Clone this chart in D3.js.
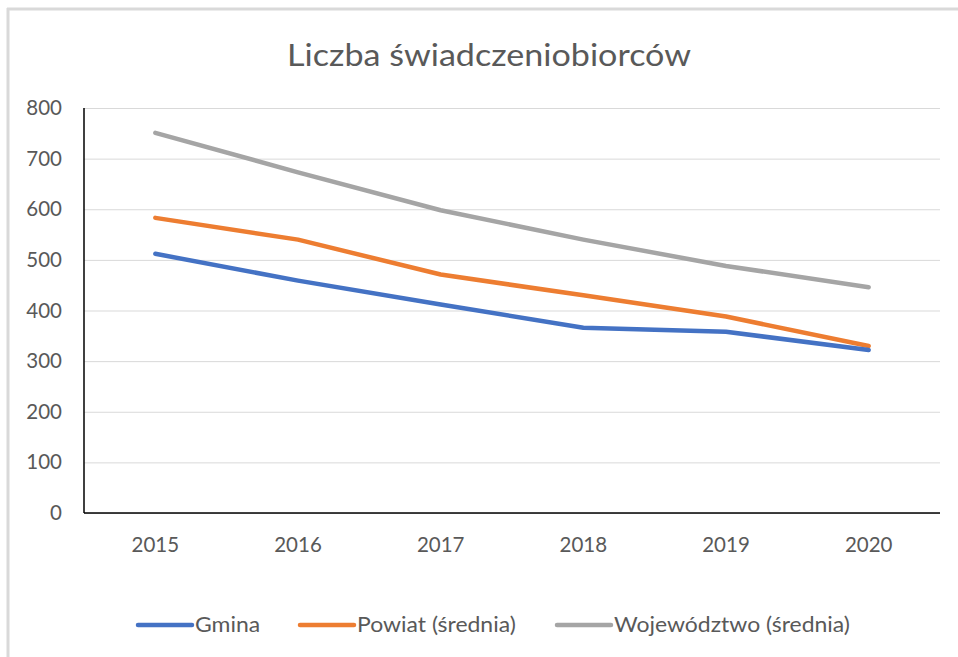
<!DOCTYPE html>
<html><head><meta charset="utf-8">
<script src="https://cdn.jsdelivr.net/npm/d3@7"></script>
<style>body{margin:0;background:#fff;} svg{display:block;}</style>
</head><body>
<svg id="chart" width="958" height="657"></svg>
<script>
const title = "Liczba świadczeniobiorców";
const years = ["2015","2016","2017","2018","2019","2020"];
const gmina = [512, 459, 412, 366, 358, 322];
const powiat = [583, 540, 471, 430, 388, 330];
const wojewodztwo = [751, 673, 598, 540, 488, 446];
const seriesNames = ["Gmina", "Powiat (średnia)", "Województwo (średnia)"];
const seriesColors = ["#4472C4", "#ED7D31", "#A5A5A5"];
const yTicks = [0,100,200,300,400,500,600,700,800];

const svg = d3.select("#chart");
const font = "Lato, 'Open Sans', sans-serif";
const textColor = "#595959";

// outer frame
svg.append("line").attr("x1",8).attr("x2",8).attr("y1",8).attr("y2",657).attr("stroke","#d9d9d9").attr("stroke-width",3);
svg.append("line").attr("x1",7).attr("x2",958).attr("y1",9).attr("y2",9).attr("stroke","#d9d9d9").attr("stroke-width",3);

const m = {left:84, right:940, top:108, bottom:513};
const x = d3.scaleBand().domain(years).range([m.left, m.right]);
const y = d3.scaleLinear().domain([0,800]).range([m.bottom, m.top]);

// gridlines
const grid = svg.append("g").attr("transform",`translate(${m.left},0)`)
  .call(d3.axisLeft(y).tickValues(yTicks).tickSize(-(m.right-m.left)).tickFormat(""));
grid.select(".domain").remove();
grid.selectAll("line").attr("stroke","#d9d9d9").attr("stroke-width",1);

// y labels
const yAx = svg.append("g").attr("transform",`translate(${m.left},0)`)
  .call(d3.axisLeft(y).tickValues(yTicks).tickSize(0).tickPadding(22));
yAx.select(".domain").remove();
yAx.selectAll("text").attr("font-family",font).attr("font-size",20.5).attr("fill",textColor);

// x labels
const xAx = svg.append("g").attr("transform",`translate(0,${m.bottom})`)
  .call(d3.axisBottom(x).tickSize(0).tickPadding(24));
xAx.select(".domain").remove();
xAx.selectAll("text").attr("font-family",font).attr("font-size",20.5).attr("fill",textColor);

// axis lines
svg.append("line").attr("x1",m.left).attr("x2",m.left).attr("y1",m.top).attr("y2",m.bottom).attr("stroke","#000").attr("stroke-width",1.5);
svg.append("line").attr("x1",m.left).attr("x2",m.right).attr("y1",m.bottom).attr("y2",m.bottom).attr("stroke","#000").attr("stroke-width",1.5);

// lines
const data = [gmina, powiat, wojewodztwo];
const line = d3.line().x((d,i)=>x(years[i]) + x.bandwidth()/2).y(d=>y(d));
[2,1,0].forEach(k=>{
  svg.append("path").datum(data[k]).attr("d",line).attr("fill","none")
    .attr("stroke",seriesColors[k]).attr("stroke-width",4.5)
    .attr("stroke-linecap","round").attr("stroke-linejoin","round");
});

// title
svg.append("text").attr("transform","translate(489,66) scale(1.1,1)").attr("text-anchor","middle")
  .attr("font-family",font).attr("font-size",31).attr("fill",textColor).text(title);

// legend
const legX = [138, 300, 557];
seriesNames.forEach((n,i)=>{
  const g = svg.append("g").attr("transform",`translate(${legX[i]},625)`);
  g.append("line").attr("x1",0).attr("x2",54).attr("y1",0).attr("y2",0)
    .attr("stroke",seriesColors[i]).attr("stroke-width",4.5).attr("stroke-linecap","round");
  g.append("text").attr("transform","translate(57,0) scale(1.12,1)").attr("dy","0.35em")
    .attr("font-family",font).attr("font-size",20.5).attr("fill",textColor).text(n);
});
</script>
</body></html>
